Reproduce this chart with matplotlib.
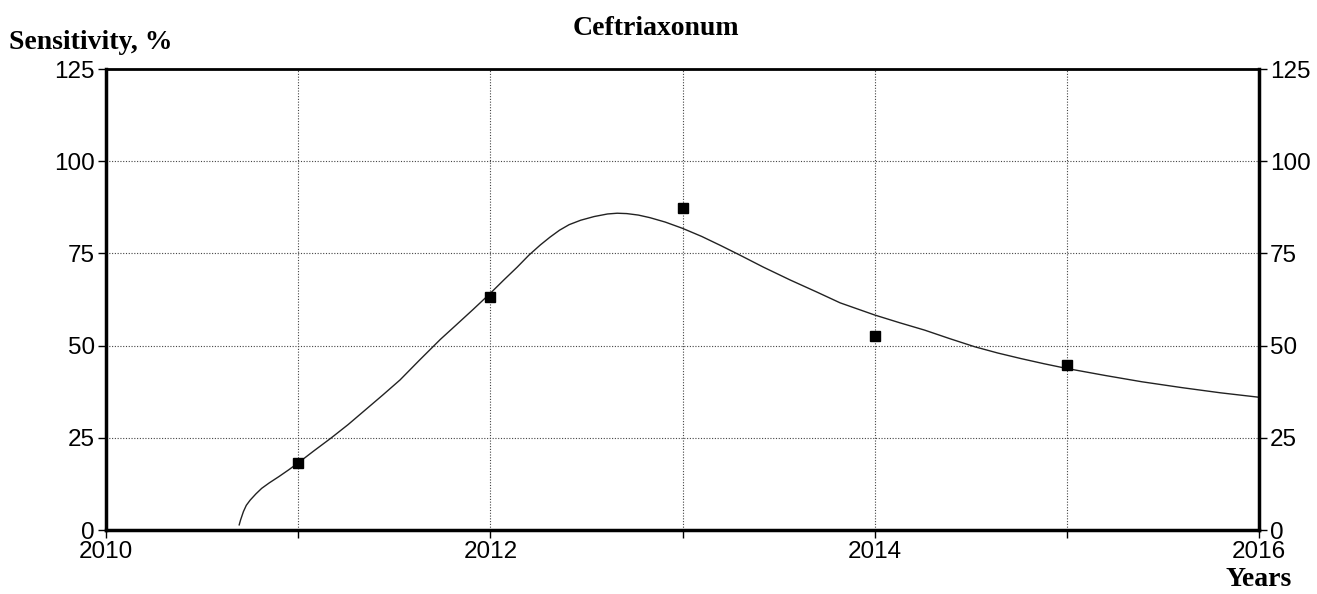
import matplotlib.pyplot as plt

# measured sensitivity, % by year
years = [2011, 2012, 2013, 2014, 2015]
sensitivity = [18.2, 63.2, 87.3, 52.6, 44.8]

# fitted trend curve
curve_x = [2010.693, 2010.70, 2010.715, 2010.73, 2010.75, 2010.78, 2010.81, 2010.85,
           2010.90, 2010.95, 2011.0, 2011.08, 2011.17, 2011.26, 2011.35, 2011.44,
           2011.53, 2011.63, 2011.74, 2011.82, 2011.91, 2012.0, 2012.07, 2012.14,
           2012.2, 2012.26, 2012.31, 2012.36, 2012.41, 2012.47, 2012.54, 2012.61,
           2012.66, 2012.71, 2012.77, 2012.83, 2012.91, 2013.0, 2013.1, 2013.2,
           2013.3, 2013.42, 2013.56, 2013.7, 2013.82, 2014.0, 2014.13, 2014.26,
           2014.39, 2014.52, 2014.64, 2014.76, 2014.88, 2015.0, 2015.2, 2015.39,
           2015.6, 2015.8, 2016.0]
curve_y = [1.4, 2.7, 5.0, 6.7, 8.1, 9.8, 11.3, 12.8,
           14.5, 16.3, 18.2, 21.4, 24.9, 28.6, 32.6, 36.6,
           40.7, 46.0, 51.7, 55.5, 59.8, 64.2, 67.8, 71.3,
           74.5, 77.3, 79.4, 81.3, 82.8, 84.0, 85.0, 85.7,
           85.9, 85.8, 85.4, 84.7, 83.5, 81.8, 79.6, 77.1,
           74.5, 71.3, 67.8, 64.5, 61.6, 58.3, 56.2, 54.2,
           51.9, 49.7, 48.0, 46.5, 45.1, 43.8, 41.9, 40.2,
           38.6, 37.2, 36.0]

x_ticks = [2010, 2011, 2012, 2013, 2014, 2015, 2016]
x_labels = ['2010', '', '2012', '', '2014', '', '2016']
y_ticks = [0, 25, 50, 75, 100, 125]

fig = plt.figure(figsize=(13.17, 5.94), dpi=100)
ax = fig.add_axes([0.0805, 0.1077, 0.8755, 0.7761])

ax.plot(curve_x, curve_y, color='#222222', lw=1.0)
ax.plot(years, sensitivity, 's', color='black', ms=7)

ax.set_xlim(2010, 2016)
ax.set_ylim(0, 125)
ax.set_xticks(x_ticks)
ax.set_xticklabels(x_labels)
ax.set_yticks(y_ticks)
ax.grid(True, color='#444444', ls=(0, (1, 1.5)), lw=0.8)

for s in ax.spines.values():
    s.set_linewidth(2.5)
ax.spines['top'].set_linewidth(2)

ax.tick_params(axis='both', direction='out', length=6, width=1,
               labelsize=17.5, pad=2)
ax.tick_params(axis='y', which='both', right=True, labelright=True)
for lab in ax.get_xticklabels() + ax.get_yticklabels():
    lab.set_family('Liberation Sans')

serif = dict(family='Liberation Serif', weight='bold', fontsize=20)
fig.text(0.498, 0.952, 'Ceftriaxonum', ha='center', va='center', **serif)
fig.text(0.007, 0.928, 'Sensitivity, %', ha='left', va='center', **serif)
fig.text(0.981, 0.004, 'Years', ha='right', va='bottom', **serif)

fig.savefig('out.png', dpi=100)
